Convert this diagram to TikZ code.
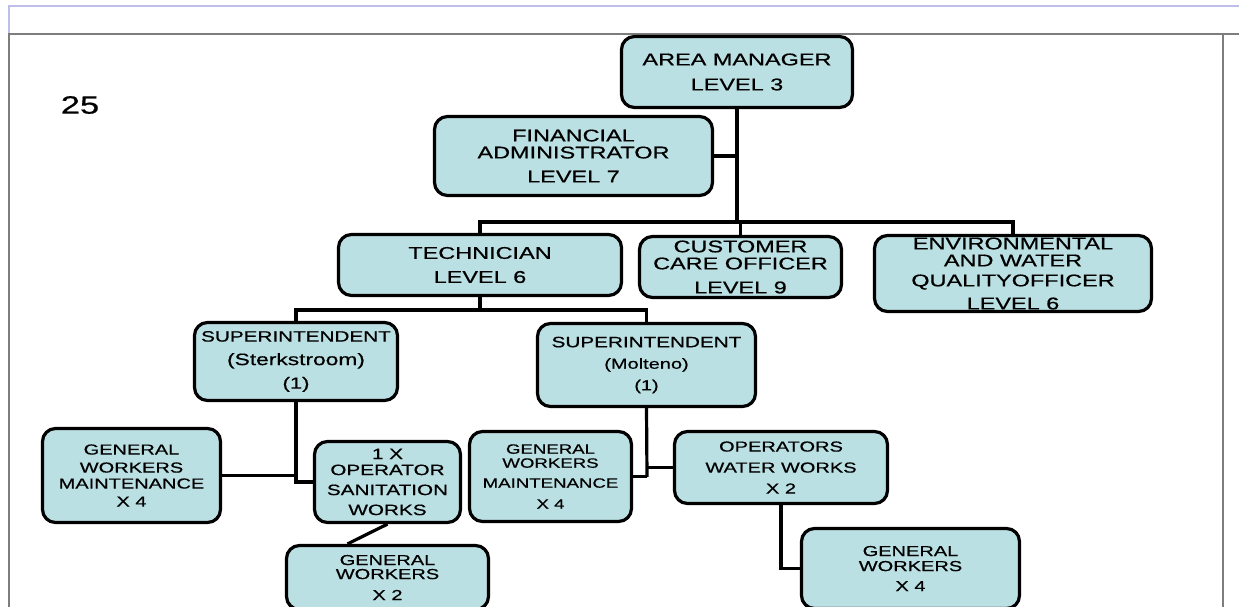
\documentclass[tikz,border=0pt]{standalone}
\usepackage{fontspec}
\setmainfont{Liberation Sans}[FakeStretch=1.38,FakeBold=0.6]
\usetikzlibrary{calc}
\definecolor{boxfill}{RGB}{187,224,227}
\definecolor{framegrey}{RGB}{125,125,125}
\definecolor{framelav}{RGB}{190,190,232}
\begin{document}
\begin{tikzpicture}[x=1pt,y=-1pt,
  box/.style={draw=black, line width=3.2pt, fill=boxfill, rounded corners=13pt,
    align=center, inner sep=0pt, text=black},
  link/.style={line width=3.2pt, draw=black},
  fs/.style 2 args={font=\fontsize{#1}{#2}\selectfont}]
\useasboundingbox (0,0) rectangle (1239,607);
\clip (0,0) rectangle (1239,607);
% frame
\draw[framelav, line width=1.2pt] (9,34) -- (9,6) -- (1239,6);
\draw[framegrey, line width=1.8pt] (9,607) -- (9,34) -- (1239,34);
\draw[framegrey, line width=1.8pt] (1223,34) -- (1223,607);
% page number
\node[fs={25}{25}, inner sep=0pt] (num) at (80,105) {25};
% boxes
\node[box, fs={17}{25}, minimum width=231, minimum height=71] (am) at (737,72) {AREA MANAGER\\LEVEL 3};
\node[box, fs={17}{17}, minimum width=278, minimum height=79] (fa) at (573.5,156) {FINANCIAL\\ADMINISTRATOR\\[7pt]LEVEL 7};
\node[box, fs={17}{24}, minimum width=283, minimum height=61] (tech) at (480,265) {TECHNICIAN\\LEVEL 6};
\node[box, fs={17}{17}, minimum width=202, minimum height=61] (cc) at (740.5,267) {CUSTOMER\\CARE OFFICER\\[7pt]LEVEL 9};
\node[box, fs={17}{17}, minimum width=277, minimum height=76] (env) at (1013,273.5) {ENVIRONMENTAL\\AND WATER\\[3pt]QUALITYOFFICER\\[6pt]LEVEL 6};
\node[box, fs={15}{23.5}, minimum width=203, minimum height=78] (sterk) at (296,361.5) {SUPERINTENDENT\\{\fontsize{16.5}{16.5}\selectfont (Sterkstroom)}\\{\fontsize{16}{16}\selectfont (1)}};
\node[box, fs={15}{21.5}, minimum width=218, minimum height=83] (molt) at (646.5,365) {SUPERINTENDENT\\{\fontsize{14.5}{14.5}\selectfont (Molteno)}\\{\fontsize{14.5}{14.5}\selectfont (1)}};
\node[box, fs={14.5}{16}, minimum width=178, minimum height=94] (gwl) at (131.5,475.5) {GENERAL\\[2pt]WORKERS\\MAINTENANCE\\[2pt]X 4};
\node[box, fs={15}{16}, minimum width=146, minimum height=81] (opsan) at (387.5,482) {1 X\\OPERATOR\\[4pt]SANITATION\\[4pt]WORKS};
\node[box, fs={14.5}{14}, minimum width=202, minimum height=64] (gw2) at (387.5,577.5) {GENERAL\\WORKERS\\[7pt]X 2};
\node[box, fs={13.5}{14}, minimum width=162, minimum height=90] (gwm) at (550.5,476.5) {GENERAL\\WORKERS\\[6pt]MAINTENANCE\\[7pt]X 4};
\node[box, fs={14.5}{21}, minimum width=213, minimum height=72] (ops) at (781,467.5) {OPERATORS\\WATER WORKS\\X 2};
\node[box, fs={14.5}{15}, minimum width=218, minimum height=80] (gw4) at (910.5,568.5) {GENERAL\\WORKERS\\[5pt]X 4};
% connector junctions
\coordinate (bar1) at (737,222);
\coordinate (bar2) at (480,310);
\coordinate (sj) at (296,482);
\coordinate (mj) at (647,477);
% level 1
\draw[link] (am.south) -- (bar1);
\draw[link] (fa.east) -- (fa.east -| bar1);
\draw[link] (tech.north) -- (tech.north |- bar1) -- (env.north |- bar1) -- (env.north);
\draw[link] (cc.north) -- (cc.north |- bar1);
% level 2
\draw[link] (tech.south) -- (bar2);
\draw[link] (sterk.north) -- (sterk.north |- bar2) -- (molt.north |- bar2) -- (molt.north);
% Sterkstroom branch
\draw[link] (sterk.south) -- (sj) -- (opsan.west);
\draw[link] (gwl.east) -- (gwl.east -| sj);
\draw[link] (opsan.south) -- ($(gw2.north)+(-40,0)$);
% Molteno branch
\draw[link] (molt.south) -- (mj);
\draw[link] (gwm.east) -- (gwm.east -| mj);
\draw[link] (ops.west) -- (ops.west -| mj);
\draw[link] (ops.south) |- (gw4.west);
\end{tikzpicture}
\end{document}
